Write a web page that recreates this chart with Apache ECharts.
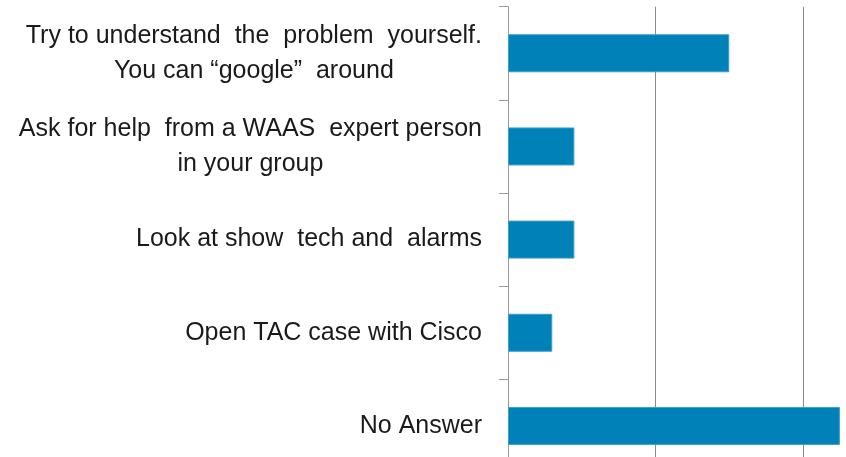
<!DOCTYPE html>
<html>
<head>
<meta charset="utf-8">
<script src="https://cdn.jsdelivr.net/npm/echarts@6/dist/echarts.min.js"></script>
<style>
  html, body { margin: 0; padding: 0; background: #fff; overflow: hidden; }
  /* the plot runs past the right and bottom edges of the 846x457 picture */
  #chart { width: 951px; height: 473px; }
</style>
</head>
<body>
<div id="chart"></div>
<script>
const categories = [
  'Try to understand  the  problem  yourself.\nYou can “google”  around',
  'Ask for help  from a WAAS  expert person\nin your group',
  'Look at show  tech and  alarms',
  'Open TAC case with Cisco',
  'No Answer'
];
const values = [30, 9, 9, 6, 45];

const chart = echarts.init(document.getElementById('chart'));
chart.setOption({
  animation: false,
  grid: { left: 508, right: 0.5, top: 6.7, bottom: 0.5 },
  xAxis: {
    type: 'value',
    min: 0,
    max: 60,
    interval: 20,
    axisLine: { show: false },
    axisTick: { show: false },
    axisLabel: { show: false },
    splitLine: { show: true, lineStyle: { color: '#8a8a8a', width: 1 } }
  },
  yAxis: {
    type: 'category',
    inverse: true,
    data: categories,
    axisLine: { show: true, lineStyle: { color: '#9a9a9a', width: 1 } },
    axisTick: { show: true, length: 9, lineStyle: { color: '#9a9a9a' } },
    axisLabel: {
      margin: 26,
      color: '#1a1a1a',
      fontFamily: 'Liberation Sans, Arial, sans-serif',
      fontSize: 25,
      lineHeight: 35,
      formatter: (v) => '{c|' + v + '}',
      rich: {
        c: {
          align: 'center',
          color: '#1a1a1a',
          fontFamily: 'Liberation Sans, Arial, sans-serif',
          fontSize: 25,
          lineHeight: 35
        }
      }
    }
  },
  series: [{
    type: 'bar',
    data: values,
    barWidth: 38,
    itemStyle: { color: '#0082b8', borderColor: '#3a9fcc', borderWidth: 1 }
  }]
});
</script>
</body>
</html>
